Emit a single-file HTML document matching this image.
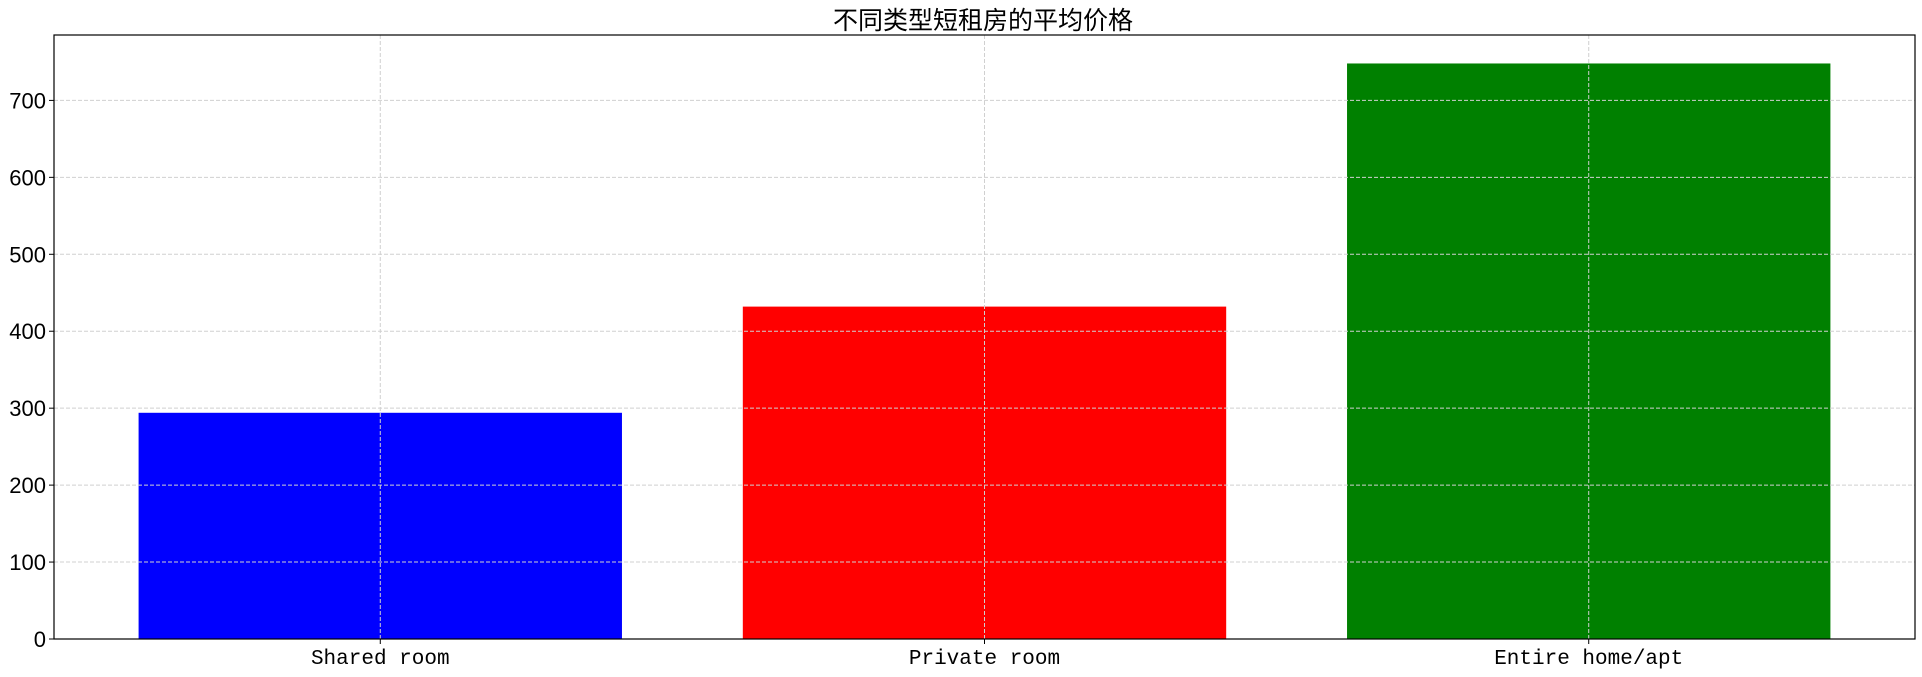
<!DOCTYPE html>
<html><head><meta charset="utf-8"><style>
html,body{margin:0;padding:0;background:#fff;}
svg{display:block;}
</style></head><body>
<svg id="chart" width="1922" height="677" xmlns="http://www.w3.org/2000/svg">
<text x="983" y="29" text-anchor="middle" font-family="'Liberation Sans','Noto Sans CJK SC',sans-serif" font-size="25" fill="#000">不同类型短租房的平均价格</text>
<g id="grid"></g>
<g id="bars"></g>
<g id="axes"></g>
</svg>
<script>
const categories = ["Shared room", "Private room", "Entire home/apt"];
const values = [294, 432, 748];
const colors = ["#0000ff", "#ff0000", "#008000"];
const yTicks = [0, 100, 200, 300, 400, 500, 600, 700];

const L = 54, R = 1915, T = 35, B = 639;
const xMin = -0.54, xMax = 2.54, yMax = 785;
function xs(v){ return L + (v - xMin) / (xMax - xMin) * (R - L); }
function ys(v){ return B - v / yMax * (B - T); }
const NS = "http://www.w3.org/2000/svg";
function mk(tag, attrs, parent){ const e = document.createElementNS(NS, tag); for (const k in attrs) e.setAttribute(k, attrs[k]); parent.appendChild(e); return e; }
const grid = document.getElementById('grid'), bars = document.getElementById('bars'), axes = document.getElementById('axes');

yTicks.forEach(t => {
  const y = ys(t);
  const g = mk('line', {x1:L, x2:R, y1:y, y2:y, stroke:'#d0d0d0', 'stroke-width':1, 'stroke-dasharray':'4,2'}, grid);
  
  
  const tk = mk('line', {x1:L-5, x2:L, y1:y, y2:y, stroke:'#000', 'stroke-width':1}, axes);
  
  
  const tx = mk('text', {x:L-8, y:y+8, 'text-anchor':'end', 'font-family':"'Liberation Sans',sans-serif", 'font-size':22, fill:'#000'}, axes);
  tx.textContent = t;
  
  
});
categories.forEach((c, i) => {
  const x = xs(i);
  const g = mk('line', {x1:x, x2:x, y1:T, y2:B, stroke:'#d0d0d0', 'stroke-width':1, 'stroke-dasharray':'4,2'}, grid);
  
  
  const x0 = xs(i - 0.4), x1 = xs(i + 0.4);
  const r = mk('rect', {x:x0, y:ys(values[i]), width:x1 - x0, height:B - ys(values[i]), fill:colors[i]}, bars);
  
  
  const tk = mk('line', {x1:x, x2:x, y1:B, y2:B+5, stroke:'#000', 'stroke-width':1}, axes);
  
  
  const tx = mk('text', {x:x, y:B+25, 'text-anchor':'middle', 'font-family':"'Liberation Mono',monospace", 'font-size':21, fill:'#000'}, axes);
  tx.textContent = c;
  
  
});
// redraw grid over bars like matplotlib (grid appears on top)
bars.parentNode.insertBefore(bars, grid);
const frame = mk('rect', {x:L, y:T, width:R-L, height:B-T, fill:'none', stroke:'#000', 'stroke-width':1.2}, axes);


</script>
</body></html>
